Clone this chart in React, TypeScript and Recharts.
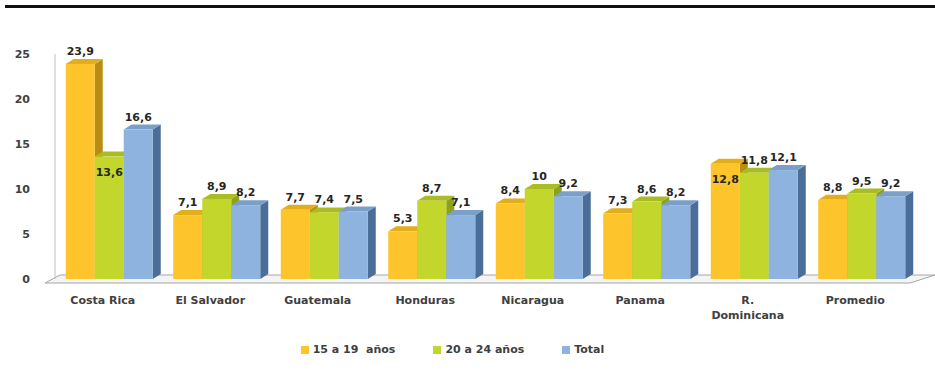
import { Bar, BarChart, LabelList, Legend, ReferenceArea, XAxis, YAxis } from "recharts";

const countries = [
  "Costa Rica",
  "El Salvador",
  "Guatemala",
  "Honduras",
  "Nicaragua",
  "Panama",
  "R.\nDominicana",
  "Promedio",
];

const teens = [23.9, 7.1, 7.7, 5.3, 8.4, 7.3, 12.8, 8.8];
const young = [13.6, 8.9, 7.4, 8.7, 10, 8.6, 11.8, 9.5];
const total = [16.6, 8.2, 7.5, 7.1, 9.2, 8.2, 12.1, 9.2];

const yTicks = [0, 5, 10, 15, 20, 25];

const seriesNames = ["15 a 19  años", "20 a 24 años", "Total"];

// labels that Excel put inside the bar instead of on top
const insideLabels = ["young|Costa Rica", "teens|R.\nDominicana"];

const data = countries.map((name, i) => ({
  name,
  teens: teens[i],
  young: young[i],
  total: total[i],
}));

const palette = {
  teens: { front: "#FDC52B", side: "#B98D14", top: "#E2AE1C" },
  young: { front: "#C2D62B", side: "#8EA11B", top: "#A9BD22" },
  total: { front: "#8DB3DE", side: "#4A6E97", top: "#7A9FC8" },
};

const DEPTH = 8;
const RISE = 5;

const box = (colors: { front: string; side: string; top: string }) => (props: any) => {
  const { x, y, width, height } = props;
  if (width == null || height == null) return null;
  return (
    <g>
      <polygon
        points={`${x + width},${y} ${x + width + DEPTH},${y - RISE} ${x + width + DEPTH},${y + height - RISE} ${x + width},${y + height}`}
        fill={colors.side}
      />
      <polygon
        points={`${x},${y} ${x + DEPTH},${y - RISE} ${x + width + DEPTH},${y - RISE} ${x + width},${y}`}
        fill={colors.top}
      />
      <rect x={x} y={y} width={width} height={height} fill={colors.front} />
    </g>
  );
};

const valueLabel = (key: string) => (props: any) => {
  const { x, y, width, value, index } = props;
  const inside = insideLabels.includes(`${key}|${countries[index]}`);
  return (
    <text
      x={x + width / 2}
      y={inside ? y + 19 : y - 9}
      textAnchor="middle"
      fontSize={11}
      fontWeight="bold"
      fill="#262626"
    >
      {String(value).replace(".", ",")}
    </text>
  );
};

const CategoryTick = (props: any) => {
  const { x, y, payload } = props;
  const lines = String(payload.value).split("\n");
  return (
    <text x={x - 6} y={y + 17} textAnchor="middle" fontSize={11} fontWeight="bold" fill="#404040">
      {lines.map((l, i) => (
        <tspan key={i} x={x - 6} dy={i === 0 ? 0 : 15}>
          {l}
        </tspan>
      ))}
    </text>
  );
};

const Floor = (props: any) => {
  const { x, width } = props;
  const yf = 283;
  const yb = 275;
  return (
    <polygon
      points={`${x - 10},${yf} ${x + width - 5},${yf} ${x + width + 20},${yb} ${x + 5},${yb}`}
      fill="#f4f4f4"
      stroke="#a6a6a6"
      strokeWidth={1}
    />
  );
};

const legendColors = [palette.teens.front, palette.young.front, palette.total.front];

const LegendBox = () => (
  <div
    style={{
      height: 50,
      paddingTop: 11,
      boxSizing: "border-box",
      display: "flex",
      justifyContent: "center",
      gap: 38,
      fontSize: 11,
      fontWeight: "bold",
      color: "#404040",
      lineHeight: "16px",
      marginLeft: -10,
    }}
  >
    {seriesNames.map((n, i) => (
      <span key={n} style={{ display: "flex", alignItems: "center", whiteSpace: "pre" }}>
        <span style={{ width: 8, height: 8, background: legendColors[i], marginRight: 4, display: "inline-block" }} />
        {n}
      </span>
    ))}
  </div>
);

export default function App() {
  return (
    <div
      style={{
        position: "absolute",
        left: 0,
        top: 0,
        width: 935,
        height: 377,
        background: "#fff",
        fontFamily: "'DejaVu Sans', Verdana, sans-serif",
      }}
    >
      <div style={{ position: "absolute", left: 5, top: 5, width: 930, height: 3, background: "#111" }} />
      <BarChart
        width={935}
        height={377}
        data={data}
        margin={{ top: 54, right: 20, left: 0, bottom: 8 }}
        barGap={0}
        barCategoryGap="10%"
        style={{ fontFamily: "'DejaVu Sans', Verdana, sans-serif" }}
      >
        <ReferenceArea y1={0} y2={0.5} shape={<Floor />} ifOverflow="visible" />
        <XAxis dataKey="name" height={40} tickLine={false} axisLine={false} interval={0} tick={<CategoryTick />} />
        <YAxis
          domain={[0, 25]}
          ticks={yTicks}
          width={55}
          tickSize={0}
          tickMargin={25}
          axisLine={{ stroke: "#bfbfbf" }}
          tick={{ fontSize: 11, fontWeight: "bold", fill: "#404040" }}
        />
        <Legend verticalAlign="bottom" content={<LegendBox />} />
        <Bar dataKey="teens" name={seriesNames[0]} shape={box(palette.teens)} isAnimationActive={false}>
          <LabelList dataKey="teens" content={valueLabel("teens")} />
        </Bar>
        <Bar dataKey="young" name={seriesNames[1]} shape={box(palette.young)} isAnimationActive={false}>
          <LabelList dataKey="young" content={valueLabel("young")} />
        </Bar>
        <Bar dataKey="total" name={seriesNames[2]} shape={box(palette.total)} isAnimationActive={false}>
          <LabelList dataKey="total" content={valueLabel("total")} />
        </Bar>
      </BarChart>
    </div>
  );
}
